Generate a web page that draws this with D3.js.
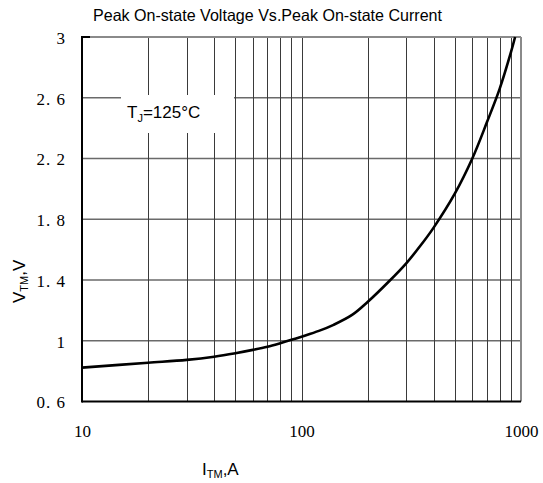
<!DOCTYPE html>
<html><head><meta charset="utf-8">
<script src="https://cdn.jsdelivr.net/npm/d3@7"></script>
<style>
body{margin:0;background:#fff;}
svg{display:block;}
</style></head>
<body>
<svg id="chart" width="543" height="483"></svg>
<script>
const current = [10,20,30,40,50,60,70,80,90,100,120,140,170,200,250,300,350,400,500,600,700,800,900,940];
const voltage = [0.823,0.855,0.874,0.895,0.918,0.94,0.961,0.984,1.006,1.027,1.065,1.105,1.17,1.255,1.39,1.51,1.63,1.745,1.97,2.2,2.44,2.66,2.9,3.0];
const yTicks = [0.6,1,1.4,1.8,2.2,2.6,3];
const xTicks = [10,100,1000];
const xGrid = [20,30,40,50,60,70,80,90,100,200,300,400,500,600,700,800,900];
const yGrid = [1,1.4,1.8,2.2,2.6];
const title = "Peak On-state Voltage Vs.Peak On-state Current";

const svg = d3.select("#chart");
const x = d3.scaleLog().domain([10,1000]).range([82,521]);
const y = d3.scaleLinear().domain([0.6,3]).range([401.5,37]);

// grid
svg.append("g").selectAll("line").data(yGrid).join("line")
  .attr("x1",x(10)).attr("x2",x(1000)).attr("y1",d=>y(d)).attr("y2",d=>y(d))
  .attr("stroke","#6a6a6a").attr("stroke-width",1.5);
svg.append("g").selectAll("line").data(xGrid).join("line")
  .attr("x1",d=>Math.round(x(d))+0.5).attr("x2",d=>Math.round(x(d))+0.5)
  .attr("y1",y(3)).attr("y2",y(0.6))
  .attr("stroke","#3a3a3a").attr("stroke-width",1);

// frame
svg.append("line").attr("x1",x(10)).attr("x2",x(1000)).attr("y1",y(3)).attr("y2",y(3)).attr("stroke","#8a8a8a").attr("stroke-width",2);
svg.append("line").attr("x1",x(1000)).attr("x2",x(1000)).attr("y1",y(3)).attr("y2",y(0.6)).attr("stroke","#8a8a8a").attr("stroke-width",2);
svg.append("line").attr("x1",x(10)).attr("x2",x(1000)).attr("y1",y(0.6)).attr("y2",y(0.6)).attr("stroke","#000").attr("stroke-width",2);
svg.append("line").attr("x1",x(10)).attr("x2",x(10)).attr("y1",y(3)-1).attr("y2",y(0.6)+1).attr("stroke","#000").attr("stroke-width",2);
svg.append("line").attr("x1",x(10)).attr("x2",x(10)+8).attr("y1",y(3)).attr("y2",y(3)).attr("stroke","#000").attr("stroke-width",2);

// label box
svg.append("rect").attr("x",121).attr("y",95).attr("width",113).attr("height",38).attr("fill","#fff");
const tj = svg.append("text").attr("x",127).attr("y",117.5)
  .attr("font-family","Liberation Sans, Arial, sans-serif").attr("font-size",17).attr("fill","#000");
tj.append("tspan").text("T");
tj.append("tspan").attr("font-size",11).attr("dy",4).text("J");
tj.append("tspan").attr("dy",-4).text("=125°C");

// curve
const pts = current.map((c,i)=>[c,voltage[i]]);
const line = d3.line().x(d=>x(d[0])).y(d=>y(d[1])).curve(d3.curveCatmullRom.alpha(0.5));
svg.append("path").datum(pts).attr("d",line).attr("fill","none").attr("stroke","#000").attr("stroke-width",2.6);

// axes labels
const fmt = d => String(d).replace(".", ". ");
const ya = svg.append("g").attr("transform",`translate(${x(10)},0)`)
  .call(d3.axisLeft(y).tickValues(yTicks).tickFormat(fmt).tickSize(0).tickPadding(16));
ya.select(".domain").remove();
ya.selectAll("text").attr("font-family","Liberation Serif, serif").attr("font-size",17).attr("fill","#000").attr("dy","0.38em").attr("letter-spacing",1);

const xa = svg.append("g").attr("transform",`translate(0,${y(0.6)})`)
  .call(d3.axisBottom(x).tickValues(xTicks).tickFormat(d3.format("d")).tickSize(0).tickPadding(23.5));
xa.select(".domain").remove();
xa.selectAll("text").attr("font-family","Liberation Serif, serif").attr("font-size",17).attr("fill","#000");

// title
svg.append("text").attr("x",93).attr("y",20.5).attr("textLength",349).attr("lengthAdjust","spacingAndGlyphs")
  .attr("font-family","Liberation Sans, Arial, sans-serif").attr("font-size",16.5).attr("fill","#000").text(title);

// x label
const xl = svg.append("text").attr("x",202).attr("y",475)
  .attr("font-family","Liberation Sans, Arial, sans-serif").attr("font-size",17).attr("fill","#000");
xl.append("tspan").text("I");
xl.append("tspan").attr("font-size",11).attr("dy",3).text("TM");
xl.append("tspan").attr("dy",-3).text(",A");

// y label
const yl = svg.append("text").attr("transform","translate(25,303) rotate(-90)")
  .attr("font-family","Liberation Sans, Arial, sans-serif").attr("font-size",17).attr("fill","#000");
yl.append("tspan").text("V");
yl.append("tspan").attr("font-size",11).attr("dy",3).text("TM");
yl.append("tspan").attr("dy",-3).text(",V");
</script>
</body></html>
